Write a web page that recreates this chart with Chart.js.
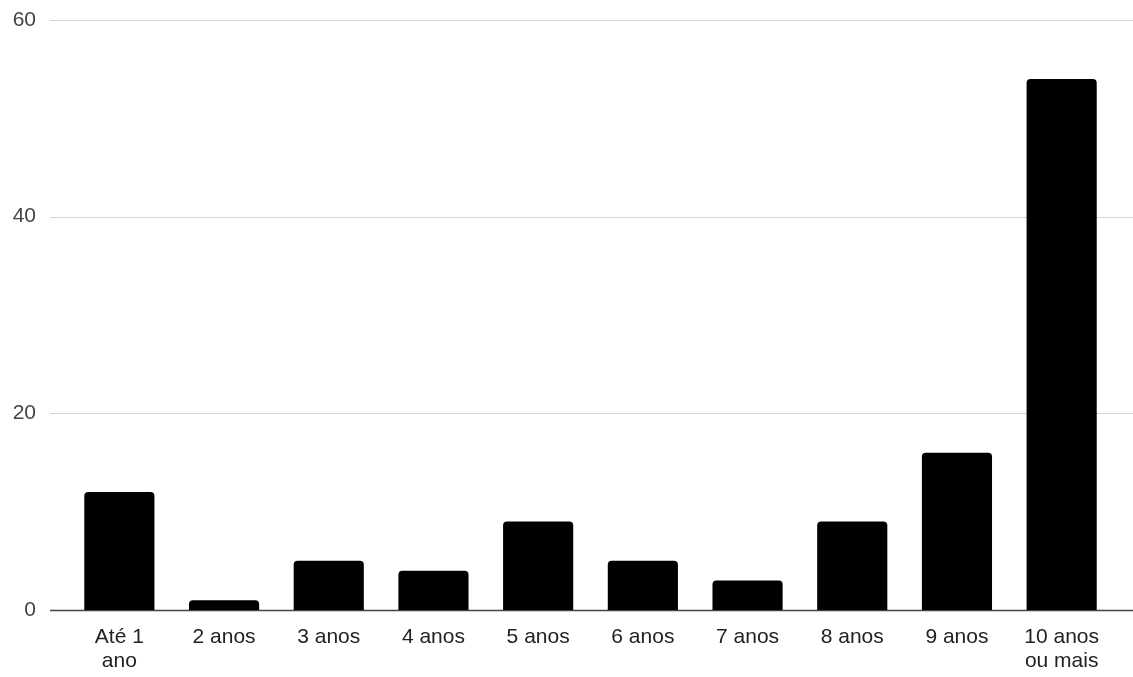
<!DOCTYPE html>
<html lang="pt">
<head>
    <meta charset="UTF-8">
    <title>Tempo</title>
    <script src="https://cdn.jsdelivr.net/npm/chart.js@4"></script>
    <style>
        body { margin: 0; background: #fff; }
    </style>
</head>
<body>
    <canvas id="grafica" width="1133" height="677"></canvas>
    <script>
// categorias e valores
const categorias = [['Até 1', 'ano'], '2 anos', '3 anos', '4 anos', '5 anos', '6 anos', '7 anos', '8 anos', '9 anos', ['10 anos', 'ou mais']];
const valores = [12, 1, 5, 4, 9, 5, 3, 9, 16, 54];
const marcasY = [0, 20, 40, 60];

// linhas de grade horizontais que passam um pouco para fora da área do gráfico
const linhasGrade = {
  id: 'linhasGrade',
  beforeDatasetsDraw(chart) {
    const ctx = chart.ctx;
    const y = chart.scales.y;
    ctx.save();
    marcasY.forEach(v => {
      const py = Math.round(y.getPixelForValue(v)) + 0.5;
      ctx.beginPath();
      ctx.strokeStyle = v === 0 ? '#444' : '#d4d4d4';
      ctx.lineWidth = v === 0 ? 1.3 : 1;
      ctx.moveTo(50, py);
      ctx.lineTo(chart.width, py);
      ctx.stroke();
    });
    ctx.restore();
  }
};

const fonte = 'Liberation Sans, Arial, sans-serif';

const ctx = document.getElementById('grafica').getContext('2d');
new Chart(ctx, {
  type: 'bar',
  data: {
    labels: categorias,
    datasets: [{
      data: valores,
      backgroundColor: '#000',
      borderRadius: 4,
      borderSkipped: 'bottom',
      barPercentage: 0.67,
      categoryPercentage: 1
    }]
  },
  options: {
    responsive: false,
    devicePixelRatio: 1,
    animation: false,
    layout: { padding: { top: 20, right: 19, left: 0, bottom: 0 } },
    plugins: {
      legend: { display: false },
      tooltip: { enabled: false }
    },
    scales: {
      x: {
        grid: { display: false, drawTicks: false },
        border: { display: false },
        ticks: {
          color: '#222',
          padding: 15,
          maxRotation: 0,
          autoSkip: false,
          font: { family: fonte, size: 21, lineHeight: 1.15 }
        },
        afterFit(scale) { scale.height = 67; }
      },
      y: {
        min: 0,
        max: 60,
        afterBuildTicks(scale) { scale.ticks = marcasY.map(v => ({ value: v })); },
        grid: { display: false, drawTicks: false },
        border: { display: false },
        ticks: {
          color: '#444',
          padding: 31,
          font: { family: fonte, size: 21 }
        },
        afterFit(scale) {
          scale.width = 67;
          scale.paddingTop = 0;
          scale.paddingBottom = 0;
        }
      }
    }
  },
  plugins: [linhasGrade]
});
    </script>
</body>
</html>
